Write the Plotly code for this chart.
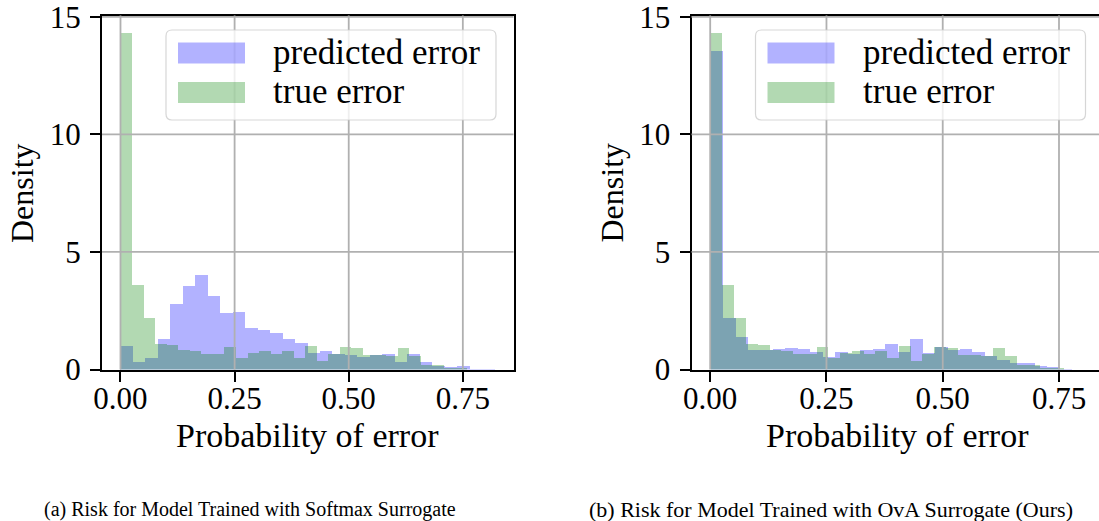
import numpy as np
import plotly.graph_objects as go

# ---------------- data ----------------
true_err_density = [14.34, 3.62, 2.20, 1.09, 1.05, 0.87, 0.79, 0.66, 0.66, 0.96,
                    0.53, 0.74, 0.79, 0.66, 0.79, 0.53, 1.04, 0.40, 0.70, 0.99,
                    0.95, 0.65, 0.62, 0.59, 0.95, 0.61, 0.23, 0.23, 0.10, 0.10]
true_err_range = (0.0, 0.759)

pred_softmax_density = [1.00, 0.36, 0.53, 1.30, 2.81, 3.58, 4.05, 3.15, 2.42, 2.46,
                        1.78, 1.69, 1.56, 1.30, 1.13, 0.72, 0.79, 0.66, 0.62, 0.57,
                        0.62, 0.70, 0.32, 0.66, 0.32, 0.19, 0.14, 0.19, 0.06, 0.03]
pred_softmax_range = (0.0, 0.8195)

pred_ova_density = [13.57, 2.23, 1.42, 0.87, 0.87, 0.91, 0.95, 0.91, 0.78, 0.57,
                    0.78, 0.70, 0.87, 0.91, 1.12, 0.78, 1.34, 0.74, 0.99, 0.87,
                    0.91, 0.78, 0.61, 0.44, 0.31, 0.31, 0.18, 0.14, 0.06, 0.02]
pred_ova_range = (0.0, 0.804)

x_tick_vals = [0.0, 0.25, 0.5, 0.75]
x_tick_text = ["0.00", "0.25", "0.50", "0.75"]
y_tick_vals = [0, 5, 10, 15]
y_tick_text = ["0", "5", "10", "15"]

series_names = ["predicted error", "true error"]
x_title = "Probability of error"
y_title = "Density"
captions = ["(a) Risk for Model Trained with Softmax Surrogate",
            "(b) Risk for Model Trained with OvA Surrogate (Ours)"]

# ---------------- styling ----------------
W, H = 1099, 521
FONT = "Liberation Serif, Times New Roman, serif"
BLUE = "rgba(0,0,255,0.3)"
GREEN = "rgba(0,128,0,0.3)"
GRID = "#b0b0b0"


def px(x):
    return x / W


def py(y):
    return 1 - y / H


def bins(density, rng):
    edges = np.linspace(rng[0], rng[1], len(density) + 1)
    centers = (edges[:-1] + edges[1:]) / 2
    widths = np.diff(edges)
    return centers, widths


fig = go.Figure()

panels = [
    dict(pred=pred_softmax_density, prange=pred_softmax_range, xa="x", ya="y",
         dom=[px(102), px(513.5)], xr=[-0.0405, 0.861], off=0, mirror_y=True),
    dict(pred=pred_ova_density, prange=pred_ova_range, xa="x2", ya="y2",
         dom=[px(691.5), 1.0], xr=[-0.0402, 0.836], off=589.5, mirror_y=False),
]

shapes = []
annotations = []
for i, p in enumerate(panels):
    c, w = bins(p["pred"], p["prange"])
    fig.add_trace(go.Bar(x=c, y=p["pred"], width=w, name=series_names[0],
                         marker=dict(color=BLUE, line=dict(width=0)),
                         xaxis=p["xa"], yaxis=p["ya"], showlegend=False))
    c, w = bins(true_err_density, true_err_range)
    fig.add_trace(go.Bar(x=c, y=true_err_density, width=w, name=series_names[1],
                         marker=dict(color=GREEN, line=dict(width=0)),
                         xaxis=p["xa"], yaxis=p["ya"], showlegend=False))

    axkey = "xaxis" if i == 0 else "xaxis2"
    aykey = "yaxis" if i == 0 else "yaxis2"
    fig.layout[axkey] = dict(
        domain=p["dom"], range=p["xr"], anchor=p["ya"], automargin=False,
        tickvals=x_tick_vals, ticktext=x_tick_text,
        showgrid=False, zeroline=False, showline=True, linecolor="black",
        linewidth=2, mirror=True, ticks="outside", ticklen=10, tickwidth=2,
        tickcolor="black", tickfont=dict(family=FONT, size=31, color="black"),
        ticklabelstandoff=-10, ticklabeloverflow="allow",
    )
    fig.layout[aykey] = dict(
        domain=[py(369.5), py(15.5)], range=[0, 15.06], anchor=p["xa"],
        automargin=False,
        tickvals=y_tick_vals, ticktext=y_tick_text,
        showgrid=False, zeroline=False, showline=True, linecolor="black",
        linewidth=2, mirror=p["mirror_y"], ticks="outside", ticklen=10, tickwidth=2,
        tickcolor="black", tickfont=dict(family=FONT, size=31, color="black"),
        ticklabelstandoff=3, ticklabeloverflow="allow",
    )

    # grid lines drawn over the bars (as in the reference)
    xref = p["xa"]
    yref = p["ya"]
    for v in x_tick_vals:
        shapes.append(dict(type="line", xref=xref, yref=yref + " domain",
                           x0=v, x1=v, y0=0, y1=1, layer="above",
                           line=dict(color=GRID, width=1.8)))
    for v in y_tick_vals[1:]:
        shapes.append(dict(type="line", xref=xref + " domain", yref=yref,
                           x0=0, x1=1, y0=v, y1=v, layer="above",
                           line=dict(color=GRID, width=1.8)))

    # legend frame (rounded)
    o = p["off"]
    x0, x1 = px(166 + o), px(496 + o)
    y0, y1 = py(120), py(30)
    rx, ry = 6 / W, 6 / H
    path = (f"M {x0+rx},{y1} L {x1-rx},{y1} Q {x1},{y1} {x1},{y1-ry} "
            f"L {x1},{y0+ry} Q {x1},{y0} {x1-rx},{y0} L {x0+rx},{y0} "
            f"Q {x0},{y0} {x0},{y0+ry} L {x0},{y1-ry} Q {x0},{y1} {x0+rx},{y1} Z")
    shapes.append(dict(type="path", path=path, xref="paper", yref="paper",
                       layer="above", fillcolor="rgba(255,255,255,0.8)",
                       line=dict(color="rgba(204,204,204,0.8)", width=1.2)))
    for j, (col, yc) in enumerate([(BLUE, 53), (GREEN, 92.5)]):
        shapes.append(dict(type="rect", xref="paper", yref="paper", layer="above",
                           x0=px(178 + o), x1=px(245 + o),
                           y0=py(yc + 10.5), y1=py(yc - 10.5),
                           fillcolor=col, line=dict(width=0)))
        annotations.append(dict(text=series_names[j], xref="paper", yref="paper",
                                x=px(271 + o), y=py(yc - 1), xanchor="left",
                                yanchor="middle", showarrow=False,
                                font=dict(family=FONT, size=35, color="black")))

    # axis titles
    annotations.append(dict(text=x_title, xref="paper", yref="paper",
                            x=px(307.5 + o), y=py(435), xanchor="center",
                            yanchor="middle", showarrow=False,
                            font=dict(family=FONT, size=34, color="black")))
    annotations.append(dict(text=y_title, xref="paper", yref="paper",
                            x=px(22 + o), y=py(193), xanchor="center",
                            yanchor="middle", textangle=-90, showarrow=False,
                            font=dict(family=FONT, size=32, color="black")))

annotations.append(dict(text=captions[0], xref="paper", yref="paper",
                        x=px(250), y=py(509), xanchor="center", yanchor="middle",
                        showarrow=False, font=dict(family=FONT, size=20, color="black")))
annotations.append(dict(text=captions[1], xref="paper", yref="paper",
                        x=px(587), y=py(509), xanchor="left", yanchor="middle",
                        showarrow=False, font=dict(family=FONT, size=22, color="black")))

fig.update_layout(
    width=W, height=H, margin=dict(l=0, r=0, t=0, b=0, autoexpand=False),
    paper_bgcolor="white", plot_bgcolor="white",
    barmode="overlay", bargap=0, showlegend=False,
    shapes=shapes, annotations=annotations,
    font=dict(family=FONT, color="black"),
)

fig.write_html(
    "out.html",
    config={"displayModeBar": False},
    post_script="document.body.style.margin='0';document.body.style.overflow='hidden';",
)
